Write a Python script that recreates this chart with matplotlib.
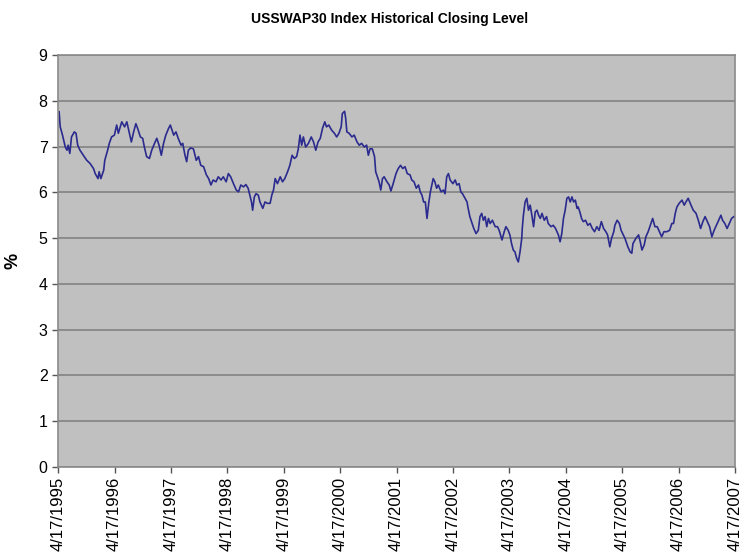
import matplotlib
matplotlib.use("Agg")
import matplotlib.pyplot as plt
import pandas as pd
import numpy as np

# decimal-year time stamps and closing levels (%)
years = [
1995.31,1995.33,1995.37,1995.42,1995.45,1995.47,1995.50,1995.53,1995.58,1995.61,
1995.64,1995.68,1995.74,1995.80,1995.86,1995.92,1995.95,1996.00,1996.02,1996.05,
1996.10,1996.12,1996.17,1996.20,1996.24,1996.29,1996.33,1996.36,1996.42,1996.47,
1996.51,1996.55,1996.59,1996.63,1996.67,1996.70,1996.75,1996.79,1996.82,1996.86,
1996.91,1996.95,1997.00,1997.04,1997.08,1997.12,1997.16,1997.20,1997.25,1997.28,
1997.34,1997.38,1997.42,1997.47,1997.50,1997.54,1997.57,1997.60,1997.64,1997.69,
1997.74,1997.78,1997.82,1997.87,1997.92,1997.96,1998.00,1998.04,1998.09,1998.13,
1998.18,1998.22,1998.27,1998.31,1998.35,1998.40,1998.45,1998.49,1998.53,1998.58,
1998.62,1998.66,1998.69,1998.72,1998.74,1998.77,1998.80,1998.84,1998.87,1998.92,
1998.96,1999.00,1999.05,1999.08,1999.11,1999.14,1999.18,1999.23,1999.27,1999.31,
1999.36,1999.40,1999.44,1999.48,1999.52,1999.55,1999.58,1999.61,1999.64,1999.68,
1999.73,1999.78,1999.82,1999.86,1999.90,1999.94,1999.98,2000.02,2000.05,2000.09,
2000.14,2000.19,2000.23,2000.27,2000.31,2000.33,2000.37,2000.39,2000.41,2000.45,
2000.50,2000.54,2000.59,2000.63,2000.67,2000.72,2000.76,2000.79,2000.82,2000.86,
2000.90,2000.92,2000.96,2000.98,2001.01,2001.04,2001.07,2001.12,2001.16,2001.19,
2001.23,2001.28,2001.32,2001.36,2001.40,2001.44,2001.48,2001.53,2001.56,2001.60,
2001.64,2001.68,2001.71,2001.74,2001.77,2001.80,2001.83,2001.86,2001.89,2001.92,
2001.94,2001.97,2002.00,2002.03,2002.08,2002.12,2002.15,2002.18,2002.21,2002.24,
2002.29,2002.33,2002.36,2002.40,2002.43,2002.46,2002.51,2002.54,2002.56,2002.59,
2002.62,2002.66,2002.70,2002.74,2002.77,2002.80,2002.83,2002.86,2002.89,2002.92,
2002.95,2002.99,2003.04,2003.08,2003.11,2003.16,2003.20,2003.23,2003.27,2003.30,
2003.33,2003.36,2003.39,2003.42,2003.45,2003.48,2003.51,2003.52,2003.54,2003.57,
2003.60,2003.63,2003.66,2003.69,2003.72,2003.75,2003.78,2003.81,2003.84,2003.87,
2003.91,2003.95,2003.98,2004.03,2004.07,2004.11,2004.16,2004.19,2004.22,2004.25,
2004.28,2004.31,2004.34,2004.37,2004.40,2004.43,2004.46,2004.49,2004.51,2004.54,
2004.57,2004.60,2004.64,2004.68,2004.72,2004.76,2004.80,2004.84,2004.88,2004.92,
2004.96,2005.00,2005.03,2005.07,2005.10,2005.14,2005.16,2005.20,2005.24,2005.27,
2005.31,2005.34,2005.39,2005.43,2005.46,2005.48,2005.53,2005.58,2005.61,2005.64,
2005.68,2005.71,2005.75,2005.80,2005.83,2005.87,2005.91,2005.95,2005.99,2006.03,
2006.08,2006.13,2006.17,2006.20,2006.23,2006.26,2006.30,2006.35,2006.39,2006.42,
2006.46,2006.51,2006.55,2006.60,2006.64,2006.68,2006.72,2006.76,2006.80,2006.84,
2006.88,2006.92,2006.95,2006.99,2007.04,2007.07,2007.11,2007.15,2007.19,2007.23,
2007.27,2007.29,
]
levels = [
7.76,7.43,7.25,6.99,6.92,7.03,6.85,7.21,7.32,7.29,
7.03,6.92,6.81,6.70,6.63,6.52,6.41,6.30,6.45,6.30,
6.48,6.70,6.92,7.07,7.21,7.25,7.47,7.29,7.54,7.43,
7.54,7.32,7.10,7.32,7.50,7.40,7.21,7.18,6.99,6.78,
6.74,6.92,7.07,7.18,7.03,6.81,7.07,7.25,7.40,7.47,
7.25,7.32,7.18,7.03,7.07,6.81,6.67,6.92,6.97,6.95,
6.70,6.78,6.59,6.56,6.38,6.30,6.16,6.27,6.23,6.34,
6.27,6.34,6.23,6.41,6.34,6.19,6.05,6.01,6.16,6.12,
6.17,6.09,5.94,5.79,5.61,5.90,5.97,5.94,5.79,5.65,
5.79,5.76,5.76,5.94,6.05,6.30,6.19,6.34,6.23,6.30,
6.45,6.59,6.81,6.74,6.78,6.95,7.25,7.03,7.21,6.99,
7.07,7.21,7.10,6.92,7.10,7.18,7.40,7.54,7.43,7.47,
7.36,7.29,7.21,7.29,7.43,7.72,7.77,7.61,7.32,7.29,
7.21,7.25,7.10,7.03,7.07,6.99,7.03,6.81,6.95,6.95,
6.78,6.45,6.30,6.23,6.05,6.30,6.34,6.23,6.16,6.03,
6.19,6.41,6.52,6.59,6.52,6.56,6.41,6.38,6.27,6.23,
6.09,6.16,6.01,5.94,5.79,5.79,5.43,5.76,6.01,6.19,
6.30,6.23,6.09,6.16,6.01,6.05,5.97,6.34,6.41,6.27,
6.19,6.27,6.16,6.19,6.01,5.97,5.86,5.79,5.65,5.47,
5.36,5.21,5.10,5.17,5.47,5.54,5.39,5.47,5.25,5.43,
5.32,5.39,5.25,5.25,5.17,4.96,5.14,5.25,5.17,5.07,
4.88,4.74,4.70,4.56,4.48,4.70,4.99,5.21,5.50,5.79,
5.87,5.61,5.72,5.50,5.25,5.57,5.61,5.50,5.43,5.54,
5.39,5.47,5.32,5.25,5.28,5.21,5.07,4.92,5.10,5.43,
5.61,5.87,5.90,5.79,5.90,5.79,5.83,5.65,5.68,5.57,
5.43,5.36,5.39,5.28,5.32,5.21,5.14,5.25,5.17,5.36,
5.21,5.14,5.07,4.81,4.99,5.14,5.28,5.39,5.32,5.17,
5.07,4.99,4.81,4.70,4.67,4.88,4.99,5.07,4.92,4.74,
4.85,5.03,5.14,5.32,5.43,5.25,5.25,5.14,5.03,5.14,
5.14,5.17,5.32,5.32,5.54,5.68,5.76,5.83,5.72,5.79,
5.87,5.72,5.61,5.54,5.39,5.21,5.36,5.47,5.36,5.25,
5.03,5.17,5.25,5.36,5.50,5.39,5.32,5.21,5.32,5.43,
5.47,5.47,
]
tick_labels = ['4/17/1995','4/17/1996','4/17/1997','4/17/1998','4/17/1999',
               '4/17/2000','4/17/2001','4/17/2002','4/17/2003','4/17/2004',
               '4/17/2005','4/17/2006','4/17/2007']
y_ticks = [0,1,2,3,4,5,6,7,8,9]
title = 'USSWAP30 Index Historical Closing Level'
y_label = '%'

def to_date(t):
    y = int(np.floor(t))
    start = pd.Timestamp(year=y, month=1, day=1)
    end = pd.Timestamp(year=y + 1, month=1, day=1)
    return start + (end - start) * (t - y)

dates = [to_date(t) for t in years]
tick_dates = pd.to_datetime(tick_labels, format='%m/%d/%Y')

plt.rcParams['font.family'] = ['Liberation Sans', 'DejaVu Sans']

fig = plt.figure(figsize=(7.49, 5.59), dpi=100)
ax = fig.add_axes([58/749, 1-467/559, (735-58)/749, (467-55)/559])
ax.set_facecolor('#c0c0c0')

ax.plot(dates, levels, color='#2b2b8f', lw=1.2)

ax.set_ylim(0, 9)
ax.set_yticks(y_ticks)
ax.set_xlim(tick_dates[0], tick_dates[-1])
ax.set_xticks(tick_dates)
ax.set_xticklabels(tick_labels, rotation=90, va='top', ha='center')
ax.grid(axis='y', color='#878787', lw=1.3)
ax.set_axisbelow(True)
for s in ax.spines.values():
    s.set_color('#8a8a8a')
    s.set_linewidth(1.2)
ax.tick_params(axis='both', colors='#555555', labelcolor='black', labelsize=11.5,
               length=4, width=1)
ax.tick_params(axis='x', pad=3, labelsize=12)

ax.set_ylabel(y_label, fontsize=13, fontweight='bold', labelpad=12)
fig.text(0.52, 1-19/559, title, ha='center', va='center', fontsize=10, fontweight='bold')

fig.savefig('out.png', dpi=100, facecolor='white')
